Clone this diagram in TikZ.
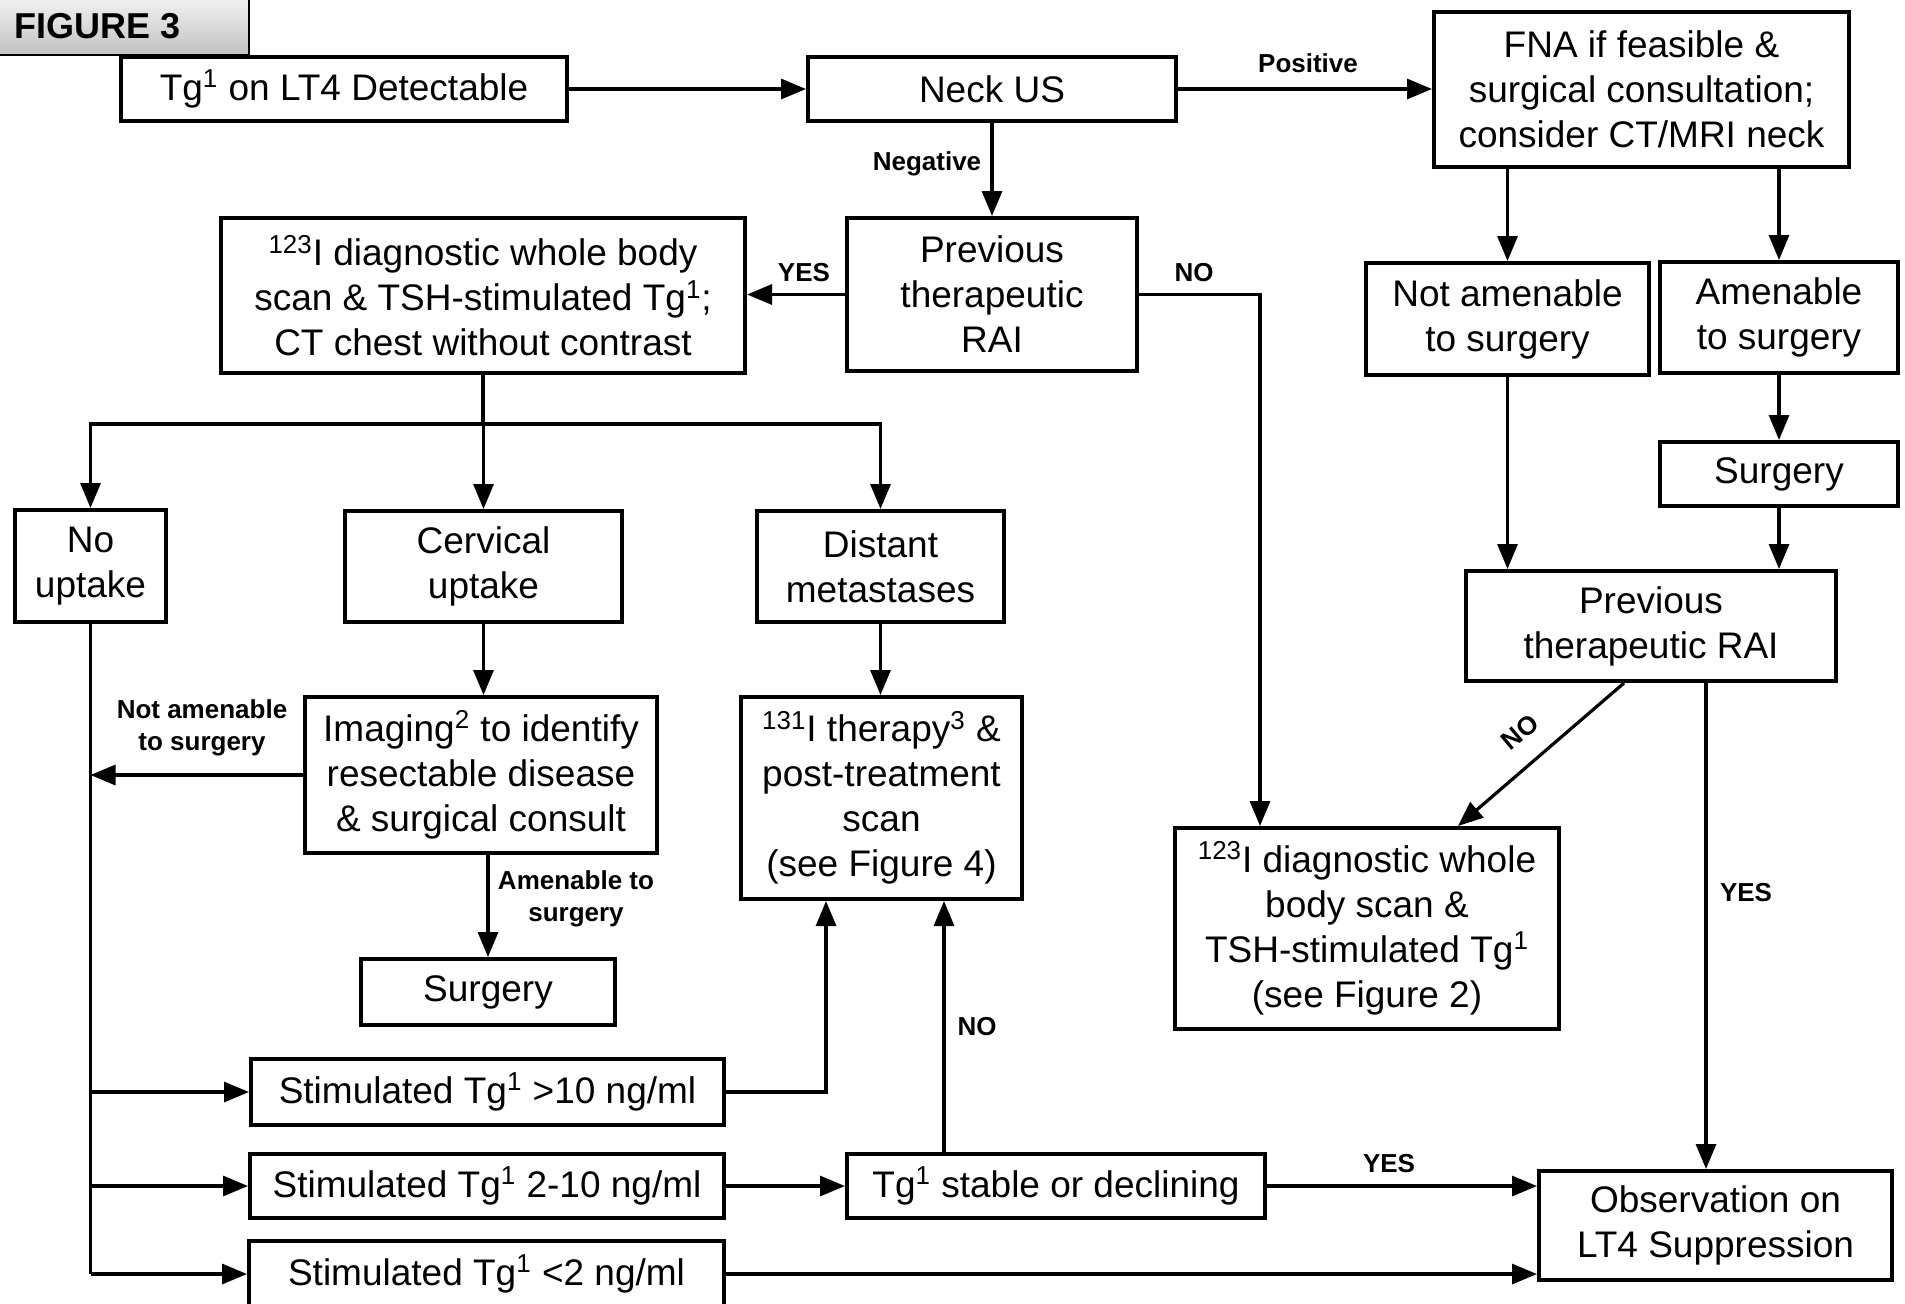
\documentclass[tikz,border=0pt]{standalone}
\usepackage{fontspec}
\setmainfont{Liberation Sans}
\usetikzlibrary{arrows.meta}
\newcommand\supr[1]{\textsuperscript{#1}}
\tikzset{
 box/.style={draw, line width=2pt, align=center, inner sep=0pt, font=\fontsize{18.5}{22.5}\selectfont},
 lbl/.style={font=\fontsize{13}{16}\selectfont\bfseries, align=center, inner sep=0pt},
 arr/.style={line width=1.6pt, -{Triangle[length=12.5pt,width=10pt]}},
 ln/.style={line width=1.6pt},
}
\newcommand\bx[6]{%
 \pgfmathsetmacro\cx{(#2+#4)/2}\pgfmathsetmacro\cy{(#3+#5)/2+2}%
 \pgfmathsetmacro\ww{(#4-#2)*0.5}\pgfmathsetmacro\hh{(#5-#3)*0.5}%
 \node[box,minimum width=\ww pt,minimum height=\hh pt] (#1) at (\cx,\cy) {#6};}
\begin{document}
\begin{tikzpicture}[x=0.5pt,y=-0.5pt]
\useasboundingbox (0,0) rectangle (1905,1303);
% tab
\shade[top color=gray!12, bottom color=gray!48] (0,0) rectangle (249,55);
\draw[line width=1pt] (249,0) -- (249,55) -- (0,55);
\node[anchor=west, font=\fontsize{18}{20}\selectfont\bfseries, inner sep=0pt] (fig) at (14,26) {FIGURE 3};
% boxes
\bx{tg}{121}{55}{567}{119}{Tg\supr{1} on LT4 Detectable}
\bx{neck}{808}{55}{1176}{119}{Neck US}
\bx{fna}{1434}{10}{1849}{165}{FNA if feasible \&\\surgical consultation;\\consider CT/MRI neck}
\bx{prai}{847}{216}{1137}{369}{Previous\\therapeutic\\RAI}
\bx{dxa}{221}{216}{745}{371}{\supr{123}I diagnostic whole body\\scan \& TSH-stimulated Tg\supr{1};\\CT chest without contrast}
\bx{notam}{1366}{261}{1649}{373}{Not amenable\\to surgery}
\bx{amen}{1660}{260}{1898}{371}{Amenable\\to surgery}
\bx{surgr}{1660}{440}{1898}{504}{Surgery}
\bx{praib}{1466}{569}{1836}{679}{Previous\\therapeutic RAI}
\bx{dxb}{1175}{826}{1559}{1027}{\supr{123}I diagnostic whole\\body scan \&\\TSH-stimulated Tg\supr{1}\\(see Figure 2)}
\bx{obs}{1539}{1169}{1892}{1278}{Observation on\\LT4 Suppression}
\bx{noup}{15}{508}{166}{620}{No\\uptake}
\bx{cerv}{345}{509}{622}{620}{Cervical\\uptake}
\bx{dist}{757}{509}{1004}{620}{Distant\\metastases}
\bx{imag}{305}{695}{657}{851}{Imaging\supr{2} to identify\\resectable disease\\\& surgical consult}
\bx{ther}{741}{695}{1022}{897}{\supr{131}I therapy\supr{3} \&\\post-treatment\\scan\\(see Figure 4)}
\bx{surgl}{361}{957}{615}{1023}{Surgery}
\bx{sa}{251}{1057}{724}{1123}{Stimulated Tg\supr{1} >10 ng/ml}
\bx{sb}{250}{1152}{724}{1216}{Stimulated Tg\supr{1} 2-10 ng/ml}
\bx{sc}{249}{1239}{724}{1305}{Stimulated Tg\supr{1} <2 ng/ml}
\bx{stab}{847}{1152}{1265}{1216}{Tg\supr{1} stable or declining}
% helper coordinates
\coordinate (nox) at (1260,0);
\coordinate (da) at (1624,0);
\coordinate (db) at (1458,0);
\coordinate (ya) at (1706,0);
\coordinate (j) at (484,424);
\coordinate (tx) at (826,0);
\coordinate (nx) at (944,0);
% connectors
\draw[arr] (tg.east) -- (tg.east -| neck.west);
\draw[arr] (neck.east) -- (neck.east -| fna.west);
\draw[arr] (neck.south) -- (prai.north);
\draw[arr] (prai.west) -- (prai.west -| dxa.east);
\draw[arr] (prai.east) -| (nox |- dxb.north);
\draw[arr] (fna.south -| notam.north) -- (notam.north);
\draw[arr] (fna.south -| amen.north) -- (amen.north);
\draw[arr] (amen.south) -- (surgr.north);
\draw[arr] (surgr.south) -- (surgr.south |- praib.north);
\draw[arr] (notam.south) -- (notam.south |- praib.north);
\draw[arr] (da |- praib.south) -- (db |- dxb.north);
\draw[arr] (ya |- praib.south) -- (ya |- obs.north);
\draw[ln] (dxa.south) -- (dxa.south |- j);
\draw[arr] (cerv.north |- j) -| (noup.north);
\draw[arr] (cerv.north |- j) -| (dist.north);
\draw[arr] (cerv.north |- j) -- (cerv.north);
\draw[arr] (cerv.south) -- (cerv.south |- imag.north);
\draw[arr] (dist.south) -- (dist.south |- ther.north);
\draw[arr] (imag.west) -- (imag.west -| noup.south);
\draw[arr] (surgl.north |- imag.south) -- (surgl.north);
\draw[ln] (noup.south) -- (noup.south |- sc.west);
\draw[arr] (noup.south |- sa.west) -- (sa.west);
\draw[arr] (noup.south |- sb.west) -- (sb.west);
\draw[arr] (noup.south |- sc.west) -- (sc.west);
\draw[arr] (sa.east) -| (tx |- ther.south);
\draw[arr] (sb.east) -- (sb.east -| stab.west);
\draw[arr] (nx |- stab.north) -- (nx |- ther.south);
\draw[arr] (stab.east) -- (stab.east -| obs.west);
\draw[arr] (sc.east) -- (sc.east -| obs.west);
% labels
\node[lbl] (lpos) at (1308,63) {Positive};
\node[lbl] (lneg) at (927,164) {Negative};
\node[lbl] (lyes1) at (804,273) {YES};
\node[lbl] (lno1) at (1194,273) {NO};
\node[lbl,rotate=40] (lno2) at (1520,732) {NO};
\node[lbl] (lyes2) at (1746,893) {YES};
\node[lbl] (lnam) at (202,728) {Not amenable\\to surgery};
\node[lbl] (lam) at (576,899) {Amenable to\\surgery};
\node[lbl] (lno3) at (977,1027) {NO};
\node[lbl] (lyes3) at (1389,1164) {YES};
\end{tikzpicture}
\end{document}
